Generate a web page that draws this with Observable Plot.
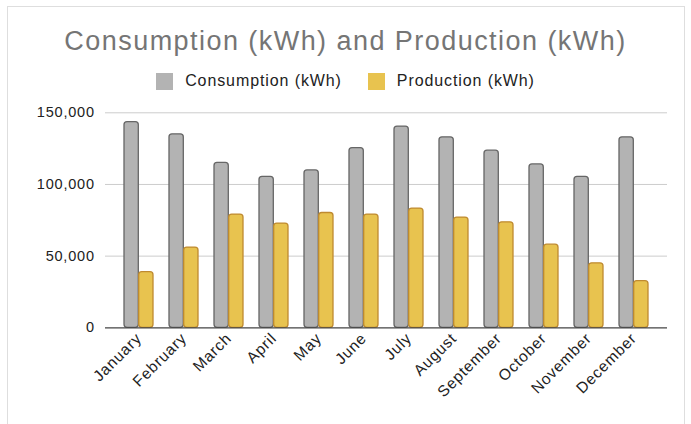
<!DOCTYPE html>
<html>
<head>
<meta charset="utf-8">
<script src="https://cdn.jsdelivr.net/npm/d3@7"></script>
<script src="https://cdn.jsdelivr.net/npm/@observablehq/plot@0.6"></script>
<style>
  html, body { margin: 0; padding: 0; background: #fff; width: 691px; height: 424px; overflow: hidden; }
  body { position: relative; font-family: "Liberation Sans", Arial, sans-serif; }
  #frame { position: absolute; left: 7px; top: 6px; width: 678px; height: 440px; border: 1px solid #dedede; box-sizing: border-box; }
  #title { position: absolute; left: 0; width: 691px; top: 28px; text-align: center; font-size: 27px; line-height: 27px; color: #757575; letter-spacing: 1.45px; white-space: nowrap; }
  #legend { position: absolute; left: 0; width: 691px; top: 72.5px; display: flex; justify-content: center; align-items: center; font-size: 16px; line-height: 16px; color: #222; letter-spacing: 0.9px; }
  .item { display: flex; align-items: center; }
  .sw { width: 17px; height: 17px; margin-right: 12px; }
  .item + .item { margin-left: 26px; }
  #chart { position: absolute; left: 0; top: 100px; }
  #chart svg text { letter-spacing: 0.8px; }
</style>
</head>
<body>
<div id="frame"></div>
<div id="title">Consumption (kWh) and Production (kWh)</div>
<div id="legend"></div>
<div id="chart"></div>
<script>
const months = ["January", "February", "March", "April", "May", "June", "July", "August", "September", "October", "November", "December"];
const consumption = [143500, 135000, 115000, 105300, 109800, 125400, 140400, 132900, 123600, 114000, 105300, 132900];
const production = [38800, 56000, 79000, 72700, 80100, 79000, 83200, 76900, 73600, 58000, 45000, 32500];
const seriesNames = ["Consumption (kWh)", "Production (kWh)"];
const yTicks = [0, 50000, 100000, 150000];

const colors = {fill: ["#b3b3b3", "#e8c34f"], stroke: ["#666666", "#bf8a30"]};

const legend = document.getElementById("legend");
seriesNames.forEach((name, i) => {
  const item = document.createElement("div");
  item.className = "item";
  const sw = document.createElement("span");
  sw.className = "sw";
  sw.style.background = colors.fill[i];
  const label = document.createElement("span");
  label.textContent = name;
  item.appendChild(sw);
  item.appendChild(label);
  legend.appendChild(item);
});

const consData = months.map((m, i) => ({month: m, value: consumption[i]}));
const prodData = months.map((m, i) => ({month: m, value: production[i]}));

const half = 14.7;

const chart = Plot.plot({
  width: 691,
  height: 324,
  marginLeft: 105,
  marginRight: 24,
  marginTop: 12.3,
  marginBottom: 96.7,
  style: {fontFamily: "'Liberation Sans', Arial, sans-serif", color: "#222", background: "transparent"},
  x: {domain: months, paddingInner: 0.352, paddingOuter: 0.363, label: null},
  y: {domain: [0, 150000], label: null},
  marks: [
    Plot.gridY(yTicks.slice(1), {stroke: "#cccccc", strokeOpacity: 1}),
    Plot.barY(consData, {x: "month", y: "value", fill: colors.fill[0], stroke: colors.stroke[0], strokeWidth: 1.3, insetRight: half, rx: 3}),
    Plot.barY(prodData, {x: "month", y: "value", fill: colors.fill[1], stroke: colors.stroke[1], strokeWidth: 1.3, insetLeft: half, rx: 3}),
    Plot.ruleY([0], {stroke: "#444", strokeWidth: 1.2}),
    Plot.axisY({ticks: yTicks, tickFormat: d3.format(","), tickSize: 0, tickPadding: 10.7, fontSize: 14.5, label: null}),
    Plot.axisX({tickRotate: -45, tickSize: 0, tickPadding: 8, fontSize: 15.5, label: null})
  ]
});
document.getElementById("chart").appendChild(chart);
</script>
</body>
</html>
